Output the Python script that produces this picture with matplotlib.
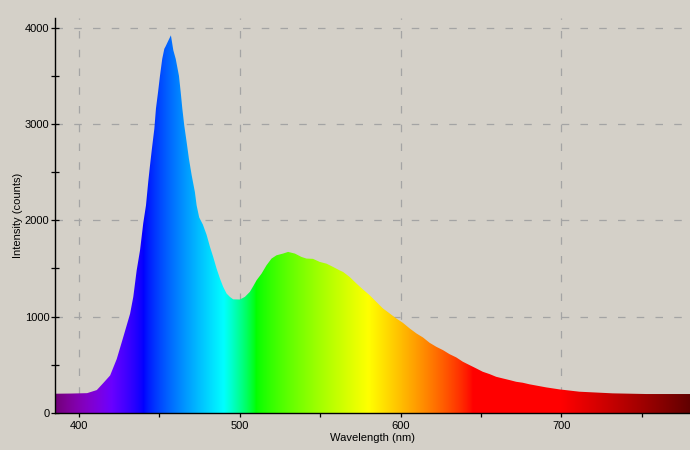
import numpy as np
import matplotlib
matplotlib.use("Agg")
import matplotlib.pyplot as plt
from matplotlib.patches import PathPatch
from matplotlib.ticker import MultipleLocator

# ---- data ----
wavelength = [385, 395, 400, 405, 411, 415, 419.3, 423.4, 427.5, 431.7, 433.7, 435.8,
              437.9, 439.9, 441.6, 443, 444.1, 445.3, 446.8, 447.8, 449.1, 450.3, 451.7,
              453, 453.8, 455.5, 457.1, 458.6, 460.1, 462.1, 463.2, 464.2, 465.4, 466.9,
              468.3, 470, 472, 473.1, 474.7, 477, 479.3, 481.4, 483.4, 485.5,
              487.6, 489.6, 491.7, 493.8, 495.8, 500, 503.1, 506.2, 508.3, 510.4, 513.5,
              516.6, 519.7, 522.8, 526.9, 530, 534.2, 538.3, 541.4, 545.5, 549.7, 553.9,
              558, 562.1, 564.2, 568.3, 572.5, 576.6, 580.7, 584.9, 589, 593.2, 597.3,
              601.4, 605.6, 609.8, 613.9, 618, 622.2, 626.3, 630.4, 634.6, 638.7, 642.9,
              647, 651.1, 655.3, 659.4, 663.5, 667.7, 671.9, 676, 680.1, 690.5, 698.8,
              711.2, 731.9, 752.6, 780]
intensity = [200, 202, 204, 206, 238, 310, 390, 560, 790, 1030, 1205, 1480,
             1690, 1970, 2155, 2400, 2570, 2745, 2950, 3160, 3330, 3500, 3675,
             3780, 3805, 3865, 3920, 3765, 3675, 3500, 3330, 3160, 2985, 2810,
             2640, 2470, 2295, 2155, 2030, 1955, 1850, 1725, 1620, 1500,
             1396, 1310, 1240, 1205, 1180, 1178, 1205, 1257, 1316, 1378, 1447,
             1534, 1603, 1637, 1655, 1672, 1655, 1620, 1603, 1600, 1568, 1550,
             1516, 1480, 1464, 1412, 1344, 1282, 1223, 1153, 1085, 1033, 981,
             936, 878, 826, 784, 729, 687, 653, 611, 577, 532, 497,
             463, 428, 404, 376, 359, 342, 324, 314, 298, 266, 245,
             221, 204, 197, 197]

x_ticks = [400, 500, 600, 700]
y_ticks = [0, 1000, 2000, 3000, 4000]
x_label = "Wavelength (nm)"
y_label = "Intensity (counts)"
x_range = (385, 780)
y_range = (0, 4100)


def wl_to_rgb(w, gamma=0.8):
    if w < 440:
        r, g, b = -(w - 440) / 60.0, 0.0, 1.0
    elif w < 490:
        r, g, b = 0.0, (w - 440) / 50.0, 1.0
    elif w < 510:
        r, g, b = 0.0, 1.0, -(w - 510) / 20.0
    elif w < 580:
        r, g, b = (w - 510) / 70.0, 1.0, 0.0
    elif w < 645:
        r, g, b = 1.0, -(w - 645) / 65.0, 0.0
    else:
        r, g, b = 1.0, 0.0, 0.0
    if w < 420:
        f = 0.3 + 0.7 * (w - 380) / 40.0
    elif w > 700:
        f = 0.3 + 0.7 * (780 - w) / 80.0
    else:
        f = 1.0
    return [(max(c, 0) * f) ** gamma for c in (r, g, b)]


BG = "#D4D0C8"
plt.rcParams['font.family'] = ['Liberation Sans', 'DejaVu Sans']

fig = plt.figure(figsize=(6.9, 4.5), dpi=100, facecolor=BG)
ax = fig.add_axes([55 / 690, 37 / 450, 635 / 690, 395 / 450])
ax.set_facecolor(BG)

ax.set_xlim(*x_range)
ax.set_ylim(*y_range)

# gradient clipped by the spectrum outline
poly = ax.fill_between(wavelength, intensity, 0, facecolor='none', edgecolor='none')
path = poly.get_paths()[0]
cols = np.linspace(x_range[0], x_range[1], 800)
grad = np.array([[wl_to_rgb(w) for w in cols]])
im = ax.imshow(grad, extent=[x_range[0], x_range[1], y_range[0], y_range[1]],
               aspect='auto', origin='lower', interpolation='bilinear', zorder=3)
patch = PathPatch(path, transform=ax.transData, facecolor='none', edgecolor='none')
ax.add_patch(patch)
im.set_clip_path(patch)

ax.set_xticks(x_ticks)
ax.set_yticks(y_ticks)
ax.xaxis.set_minor_locator(MultipleLocator(50))
ax.yaxis.set_minor_locator(MultipleLocator(500))
ax.tick_params(axis='both', which='both', direction='inout', length=6, width=0.9,
               color='black', labelsize=8)
ax.tick_params(axis='y', which='both', pad=1)
ax.tick_params(axis='x', which='both', pad=3)

ax.grid(True, which='major', color='#A4A4A4', linestyle=(0, (6, 9)), linewidth=0.9, zorder=1)
ax.set_axisbelow(True)

for s in ['top', 'right']:
    ax.spines[s].set_visible(False)
for s in ['left', 'bottom']:
    ax.spines[s].set_linewidth(1.0)
    ax.spines[s].set_zorder(4)

ax.set_xlabel(x_label, fontsize=8, labelpad=1)
ax.set_ylabel(y_label, fontsize=8, labelpad=1)

fig.savefig("out.png", dpi=100, facecolor=BG)
